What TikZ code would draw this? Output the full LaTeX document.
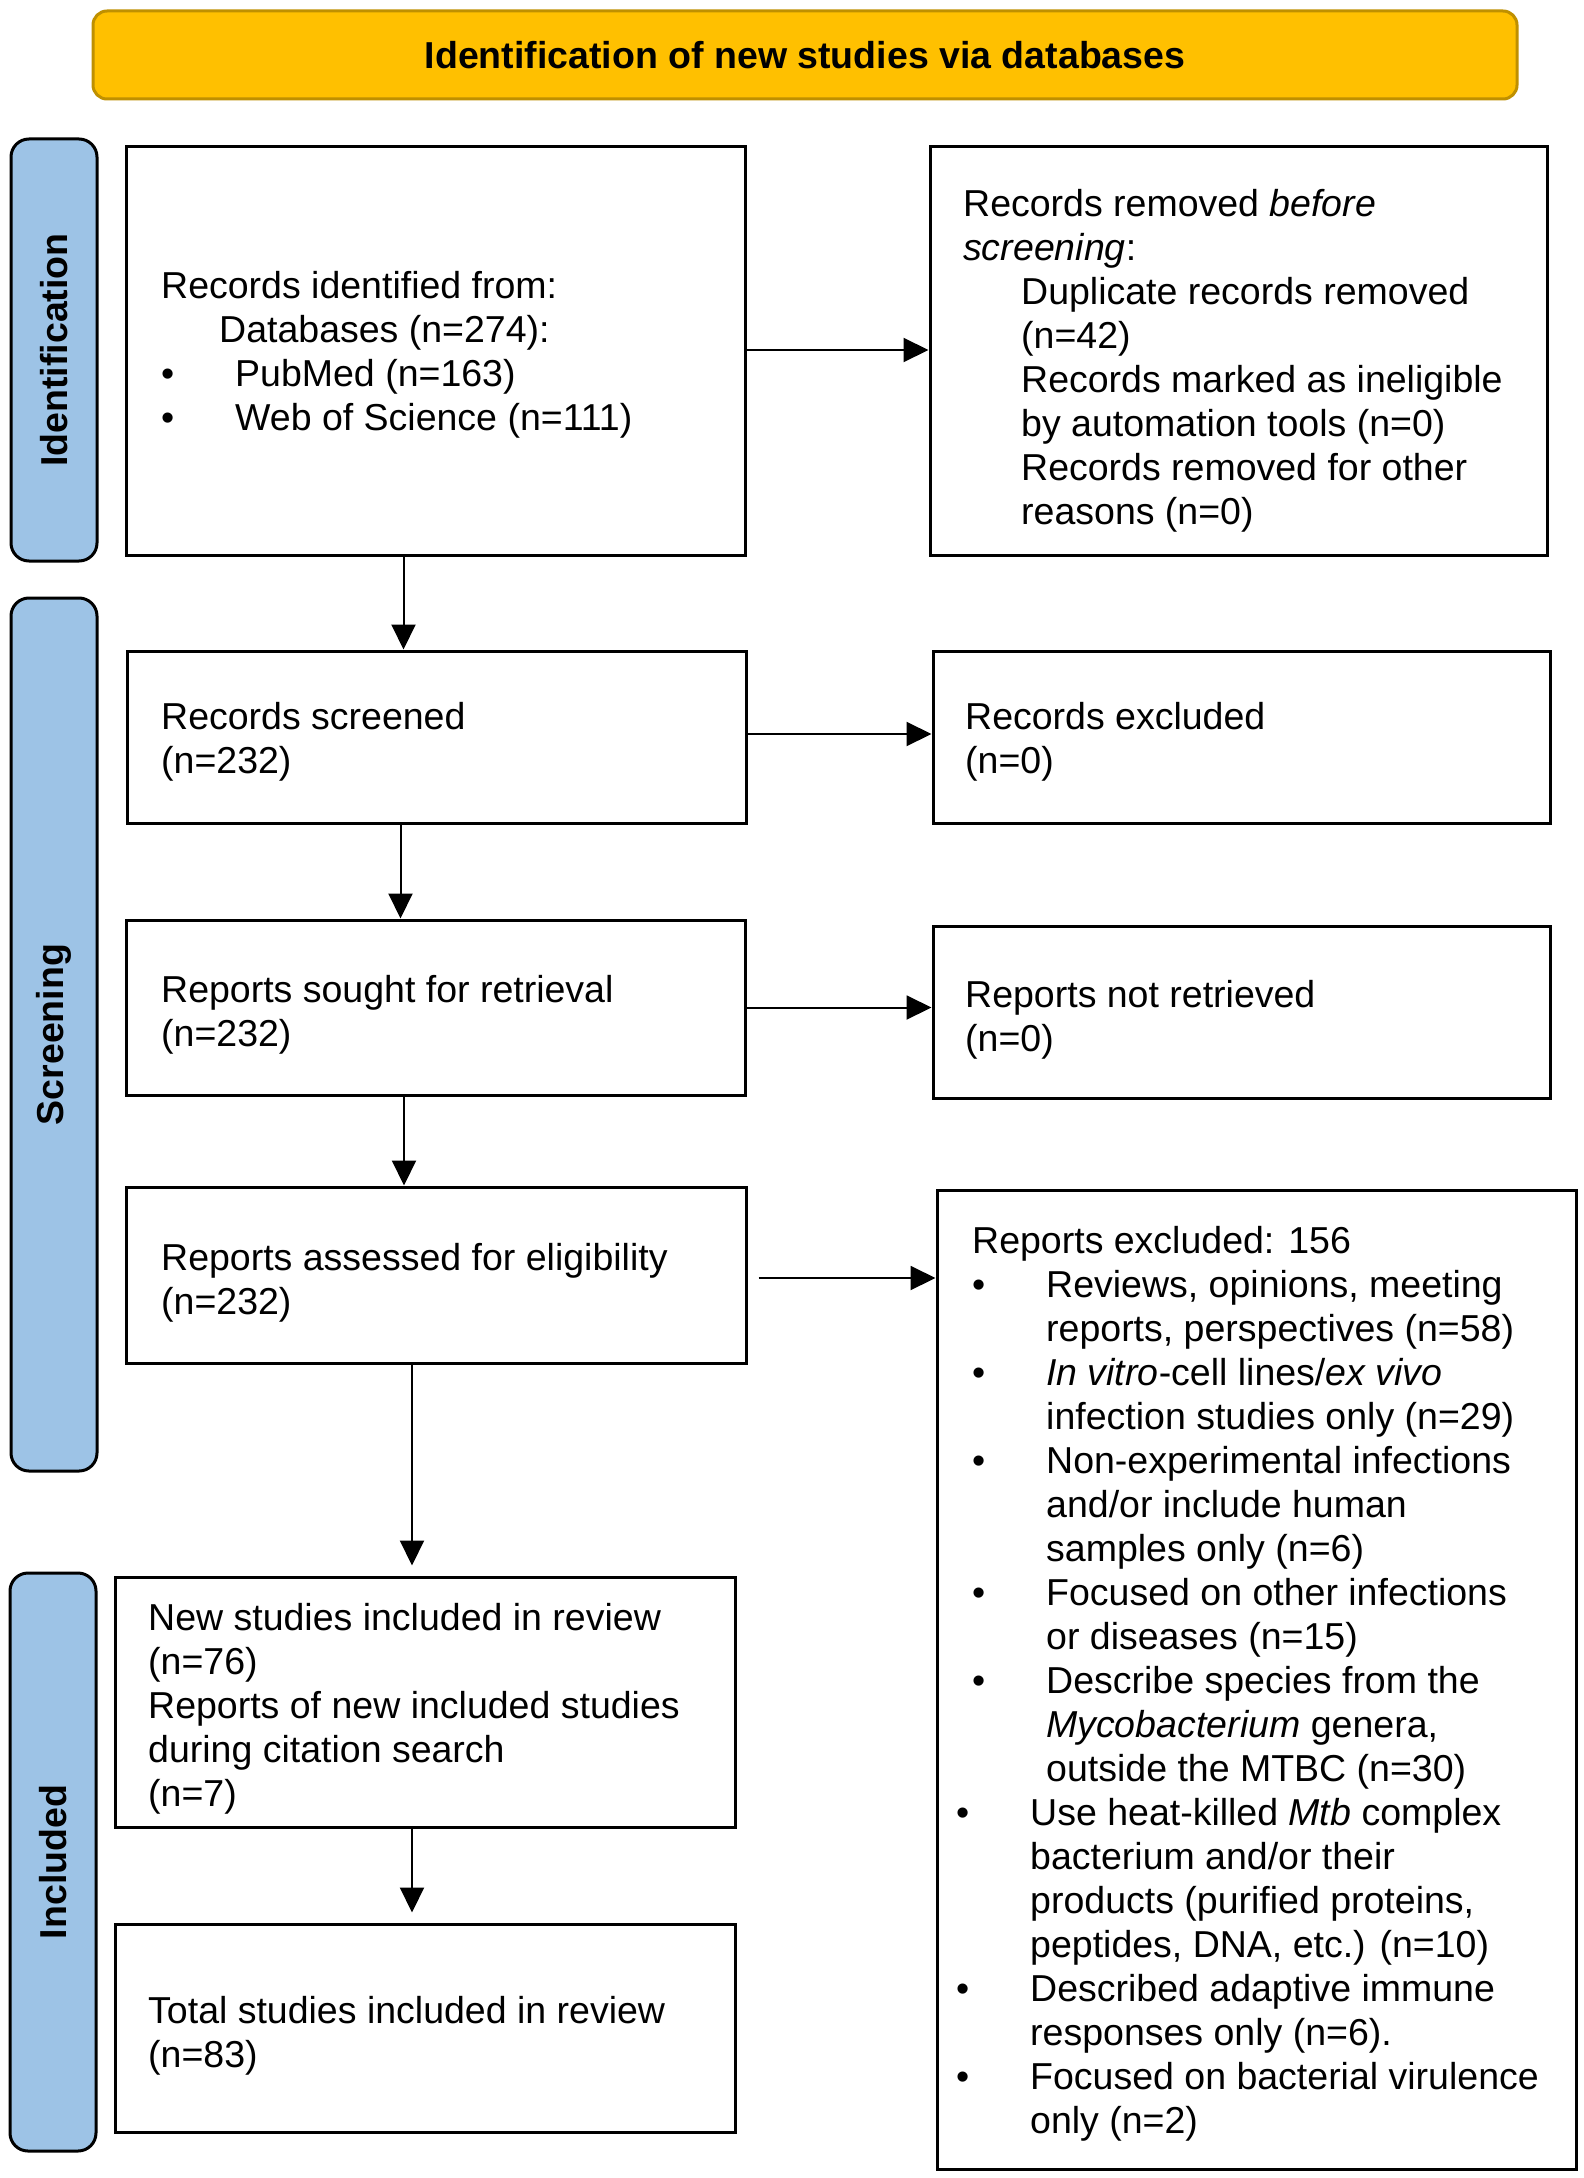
\documentclass[tikz,border=0pt]{standalone}
\usepackage{fontspec}
\setmainfont{Liberation Sans}
\usetikzlibrary{arrows.meta}
\definecolor{bannerfill}{HTML}{FFC000}
\definecolor{bannerline}{HTML}{BF9000}
\definecolor{barfill}{HTML}{9DC3E6}
\newcommand\pfbody{\fontsize{37.5pt}{44pt}\selectfont}
\newcommand\pfbul{\makebox[74pt][l]{\textbullet}}
\newcommand\pfind[1][74pt]{\hspace*{#1}}
\tikzset{
  box/.style={draw=black, line width=3pt, rectangle, inner sep=0pt, fill=white},
  phasebar/.style={draw=black, line width=3pt, rectangle, rounded corners=18pt, fill=barfill, inner sep=0pt},
  banner/.style={draw=bannerline, line width=3pt, rectangle, rounded corners=14pt, fill=bannerfill, inner sep=0pt, font=\pfbody\bfseries},
  txt/.style={inner sep=0pt, anchor=base west, font=\pfbody},
  phaselabel/.style={inner sep=0pt, rotate=90, font=\pfbody\bfseries},
  arr/.style={line width=2pt, -{Triangle[length=25pt,width=24pt]}},
}
\begin{document}
\begin{tikzpicture}[x=1pt,y=-1pt]
\fill[white] (0,0) rectangle (1583,2178);
\useasboundingbox (0,0) rectangle (1583,2178);

% banner
\node[banner, minimum width=1424pt, minimum height=88pt] (banner) at (805,55) {Identification of new studies via databases};

% phase bars
\node[phasebar, minimum width=86pt, minimum height=422pt] (barid) at (54,350) {};
\node[phaselabel] (labid) at (barid.center) {Identification};
\node[phasebar, minimum width=86pt, minimum height=873pt] (barsc) at (54,1034.5) {};
\node[phaselabel] (labsc) at (barsc.center) {Screening};
\node[phasebar, minimum width=86pt, minimum height=578pt] (barin) at (53,1862) {};
\node[phaselabel] (labin) at (barin.center) {Included};

% boxes
\node[box, minimum width=619pt, minimum height=408pt] (b1) at (435.5,351) {};
\node[box, minimum width=617pt, minimum height=408pt] (b2) at (1238.5,351) {};
\node[box, minimum width=619pt, minimum height=172pt] (b3) at (436.5,737) {};
\node[box, minimum width=617pt, minimum height=172pt] (b4) at (1241.5,737) {};
\node[box, minimum width=619pt, minimum height=175pt] (b5) at (435.5,1007.5) {};
\node[box, minimum width=617pt, minimum height=172pt] (b6) at (1241.5,1012) {};
\node[box, minimum width=620pt, minimum height=176pt] (b7) at (436,1275) {};
\node[box, minimum width=639pt, minimum height=979pt] (b8) at (1256.5,1679.5) {};
\node[box, minimum width=620pt, minimum height=250pt] (b9) at (425,1702) {};
\node[box, minimum width=620pt, minimum height=208pt] (b10) at (425,2028) {};

% texts
\node[txt] (t1) at (161,298) {\begin{tabular}[t]{@{}l@{}}
Records identified from:\\
\pfind[58pt]Databases (n=274):\\
\pfbul PubMed (n=163)\\
\pfbul Web of Science (n=111)
\end{tabular}};
\node[txt] (t2) at (963,216) {\begin{tabular}[t]{@{}l@{}}
Records removed \textit{before}\\
\textit{screening}:\\
\pfind[58pt]Duplicate records removed\\
\pfind[58pt](n=42)\\
\pfind[58pt]Records marked as ineligible\\
\pfind[58pt]by automation tools (n=0)\\
\pfind[58pt]Records removed for other\\
\pfind[58pt]reasons (n=0)
\end{tabular}};
\node[txt] (t3) at (161,729) {\begin{tabular}[t]{@{}l@{}}
Records screened\\
(n=232)
\end{tabular}};
\node[txt] (t4) at (965,729) {\begin{tabular}[t]{@{}l@{}}
Records excluded\\
(n=0)
\end{tabular}};
\node[txt] (t5) at (161,1002) {\begin{tabular}[t]{@{}l@{}}
Reports sought for retrieval\\
(n=232)
\end{tabular}};
\node[txt] (t6) at (965,1007) {\begin{tabular}[t]{@{}l@{}}
Reports not retrieved\\
(n=0)
\end{tabular}};
\node[txt] (t7) at (161,1270) {\begin{tabular}[t]{@{}l@{}}
Reports assessed for eligibility\\
(n=232)
\end{tabular}};
\node[txt] (t8) at (972,1253) {\begin{tabular}[t]{@{}l@{}}
Reports excluded: 156\\
\pfbul Reviews, opinions, meeting\\
\pfind reports, perspectives (n=58)\\
\pfbul \textit{In vitro}-cell lines/\textit{ex vivo}\\
\pfind infection studies only (n=29)\\
\pfbul Non-experimental infections\\
\pfind and/or include human\\
\pfind samples only (n=6)\\
\pfbul Focused on other infections\\
\pfind or diseases (n=15)\\
\pfbul Describe species from the\\
\pfind \textit{Mycobacterium} genera,\\
\pfind outside the MTBC (n=30)\\
\hspace*{-16pt}\pfbul Use heat-killed \textit{Mtb} complex\\
\pfind[58pt]bacterium and/or their\\
\pfind[58pt]products (purified proteins,\\
\pfind[58pt]peptides, DNA, etc.) (n=10)\\
\hspace*{-16pt}\pfbul Described adaptive immune\\
\pfind[58pt]responses only (n=6).\\
\hspace*{-16pt}\pfbul Focused on bacterial virulence\\
\pfind[58pt]only (n=2)
\end{tabular}};
\node[txt] (t9) at (148,1630) {\begin{tabular}[t]{@{}l@{}}
New studies included in review\\
(n=76)\\
Reports of new included studies\\
during citation search\\
(n=7)
\end{tabular}};
\node[txt] (t10) at (148,2023) {\begin{tabular}[t]{@{}l@{}}
Total studies included in review\\
(n=83)
\end{tabular}};

% connectors
\draw[arr] ([yshift=1pt]b1.east) -- ([yshift=1pt]b1.east -| b2.west);
\draw[arr] ([xshift=-32pt]b1.south) -- ([xshift=-32pt]b1.south |- b3.north);
\draw[arr] ([yshift=3pt]b3.east) -- ([yshift=3pt]b3.east -| b4.west);
\draw[arr] ([xshift=-36pt]b3.south) -- ([xshift=-36pt]b3.south |- b5.north);
\draw[arr] (b5.east) -- (b5.east -| b6.west);
\draw[arr] ([xshift=-31.5pt]b5.south) -- ([xshift=-31.5pt]b5.south |- b7.north);
\draw[arr, shorten <=11pt] ([yshift=-3pt]b7.east) -- ([yshift=-3pt]b7.east -| b8.west);
\draw[arr, shorten >=10pt] ([xshift=-24pt]b7.south) -- ([xshift=-24pt]b7.south |- b9.north);
\draw[arr, shorten >=10pt] ([xshift=-13pt]b9.south) -- ([xshift=-13pt]b9.south |- b10.north);
\end{tikzpicture}
\end{document}
